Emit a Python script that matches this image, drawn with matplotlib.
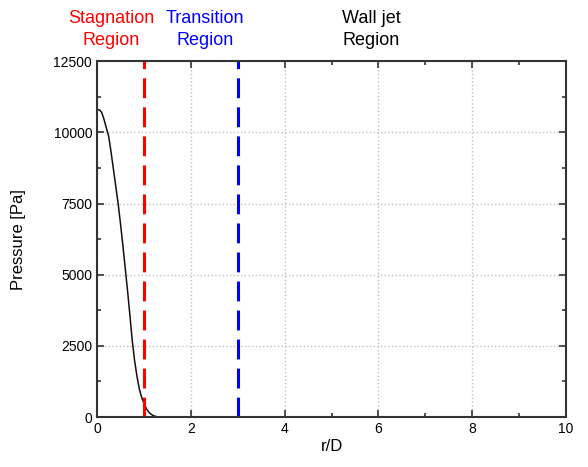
import numpy as np
import matplotlib.pyplot as plt
from matplotlib.ticker import MultipleLocator

plt.rcParams['font.family'] = ['Liberation Sans', 'DejaVu Sans']

# pressure profile
r_d = [0, 0.05, 0.1, 0.15, 0.2, 0.25, 0.3, 0.35, 0.4, 0.45, 0.5, 0.55, 0.6, 0.65,
       0.7, 0.75, 0.8, 0.85, 0.9, 0.95, 1.0, 1.05, 1.1, 1.15, 1.2, 1.25, 1.3, 1.35, 10]
pressure = [10800, 10790, 10700, 10450, 10150, 9850, 9300, 8700, 8100, 7500, 6800, 6050,
            5250, 4450, 3600, 2700, 2000, 1450, 1000, 700, 480, 300, 180, 100, 50, 20, 5, 0, 0]

region_bounds = [1, 3]
region_colors = ['red', 'blue']
region_labels = ['Stagnation\nRegion', 'Transition\nRegion', 'Wall jet\nRegion']
label_x = [0.3, 2.3, 5.85]
label_colors = ['red', 'blue', 'black']

fig = plt.figure(figsize=(5.88, 4.67), dpi=100)
ax = fig.add_axes([0.165, 0.107, 0.7976, 0.762])

ax.plot(r_d, pressure, color='#111111', linewidth=1.1)
for xb, c in zip(region_bounds, region_colors):
    ax.axvline(xb, color=c, linestyle=(0, (6.5, 3)), linewidth=2.2)

ax.set_xlim(0, 10)
ax.set_ylim(0, 12500)
ax.xaxis.set_major_locator(MultipleLocator(2))
ax.xaxis.set_minor_locator(MultipleLocator(1))
ax.yaxis.set_major_locator(MultipleLocator(2500))
ax.yaxis.set_minor_locator(MultipleLocator(1250))
ax.tick_params(which='both', direction='in', top=True, right=True, color='#333333', labelsize=10)
ax.tick_params(which='major', length=5, width=1.2)
ax.tick_params(which='minor', length=3, width=1.2)
ax.grid(True, which='major', linestyle=':', color='#c0c0c0', linewidth=1)
for s in ax.spines.values():
    s.set_color('#333333')
    s.set_linewidth(1.5)

ax.set_xlabel('r/D', fontsize=12, labelpad=2)
ax.set_ylabel('Pressure [Pa]', fontsize=12, labelpad=20)

for x, t, c in zip(label_x, region_labels, label_colors):
    ax.text(x, 1.035, t, color=c, fontsize=13, ha='center', va='bottom',
            transform=ax.get_xaxis_transform(), linespacing=1.35)

fig.savefig('out.png', dpi=100)
